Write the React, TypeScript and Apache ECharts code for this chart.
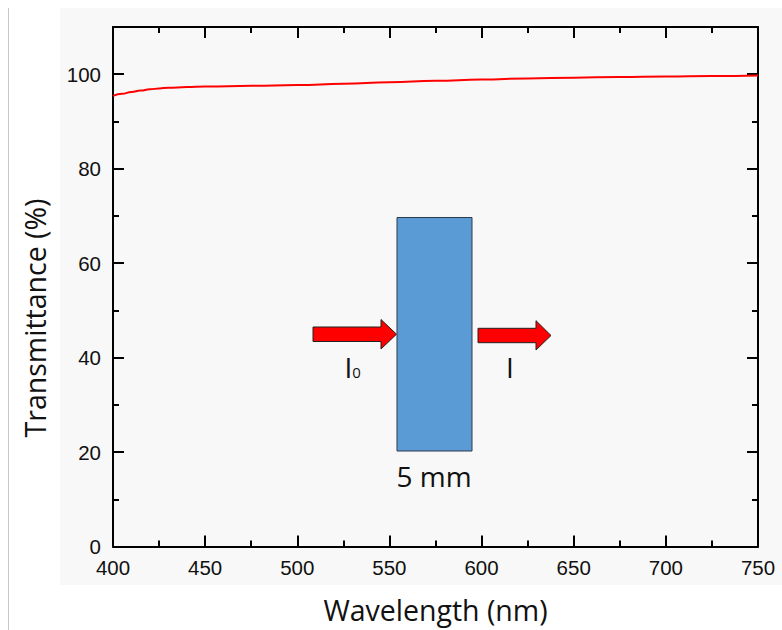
import React, { useEffect, useRef } from 'react';
import * as echarts from 'echarts';

const wavelengths = [400, 405, 410, 415, 420, 425, 430, 440, 450, 475, 500, 525, 550, 575, 600, 625, 650, 675, 700, 725, 750];
const transmittance = [95.4, 95.85, 96.25, 96.55, 96.8, 97.0, 97.12, 97.28, 97.38, 97.55, 97.72, 97.98, 98.3, 98.62, 98.88, 99.1, 99.27, 99.4, 99.5, 99.62, 99.75];
const xTickLabels = [400, 450, 500, 550, 600, 650, 700, 750];
const yTickLabels = [0, 20, 40, 60, 80, 100];

const X_MIN = 400;
const X_MAX = 750;
const Y_MIN = 0;
const Y_MAX = 110;

const TICK_FONT = 'Liberation Sans, Arial, sans-serif';
const TITLE_FONT = 'Open Sans, Noto Sans, sans-serif';

function makeAxis(kind: 'x' | 'y', position: string, major: boolean, labels: boolean) {
  const isX = kind === 'x';
  return {
    type: 'value',
    position,
    min: isX ? X_MIN : Y_MIN,
    max: isX ? X_MAX : Y_MAX,
    interval: isX ? (major ? 50 : 25) : (major ? 20 : 10),
    axisLine: { show: major, onZero: false, lineStyle: { color: '#000', width: 2 } },
    axisTick: { show: true, inside: true, length: major ? 11 : 6, lineStyle: { color: '#000', width: 2 } },
    axisLabel: {
      show: labels,
      margin: isX ? 10 : 12,
      fontFamily: TICK_FONT,
      fontSize: 20.5,
      color: '#111',
      formatter: (v: number) => {
        const list = isX ? xTickLabels : yTickLabels;
        return list.includes(v) ? String(v) : '';
      },
    },
    splitLine: { show: false },
    minorTick: { show: false },
  };
}

export default function App() {
  const ref = useRef<HTMLDivElement>(null);

  useEffect(() => {
    if (!ref.current) return;
    const chart = echarts.init(ref.current, null, { renderer: 'svg' });

    const xBottom: any = makeAxis('x', 'bottom', true, true);
    xBottom.name = 'Wavelength (nm)';
    xBottom.nameLocation = 'middle';
    xBottom.nameGap = 49;
    xBottom.nameTextStyle = { fontFamily: TITLE_FONT, fontSize: 28.5, color: '#111' };

    chart.setOption({
      animation: false,
      backgroundColor: '#ffffff',
      grid: { left: 113, top: 27, width: 645, height: 519.5, containLabel: false },
      xAxis: [
        xBottom,
        makeAxis('x', 'bottom', false, false),
        makeAxis('x', 'top', true, false),
        makeAxis('x', 'top', false, false),
      ],
      yAxis: [
        makeAxis('y', 'left', true, true),
        makeAxis('y', 'left', false, false),
        makeAxis('y', 'right', true, false),
        makeAxis('y', 'right', false, false),
      ],
      series: [
        {
          type: 'line',
          xAxisIndex: 0,
          yAxisIndex: 0,
          data: wavelengths.map((w, i) => [w, transmittance[i]]),
          smooth: true,
          smoothMonotone: 'x',
          showSymbol: false,
          lineStyle: { color: '#ff0000', width: 2 },
          z: 5,
        },
      ],
      graphic: [
        {
          type: 'rect',
          z: -10,
          silent: true,
          shape: { x: 60, y: 8, width: 722, height: 577 },
          style: { fill: '#f8f8f8' },
        },
        {
          type: 'line',
          z: -5,
          silent: true,
          shape: { x1: 8.5, y1: 8, x2: 8.5, y2: 630 },
          style: { stroke: '#c8c8c8', lineWidth: 1 },
        },
        {
          type: 'text',
          x: 35,
          y: 318,
          rotation: Math.PI / 2,
          style: {
            text: 'Transmittance (%)',
            font: `28.5px ${TITLE_FONT}`,
            fill: '#111',
            textAlign: 'center',
            textVerticalAlign: 'middle',
          },
        },
        {
          type: 'polygon',
          z: 50,
          shape: {
            points: [
              [313, 327], [381, 327], [381, 319.5], [396.5, 334.2], [381, 349], [381, 341.5], [313, 341.5],
            ],
          },
          style: { fill: '#ff0000', stroke: '#222', lineWidth: 1 },
        },
        {
          type: 'polygon',
          z: 50,
          shape: {
            points: [
              [478, 328.3], [536, 328.3], [536, 320.7], [551, 335.5], [536, 350], [536, 342.7], [478, 342.7],
            ],
          },
          style: { fill: '#ff0000', stroke: '#222', lineWidth: 1 },
        },
        {
          type: 'rect',
          z: 51,
          shape: { x: 397, y: 217.5, width: 75, height: 233.5 },
          style: { fill: '#5b9bd5', stroke: '#2e3a48', lineWidth: 1 },
        },
        {
          type: 'text',
          z: 52,
          x: 348.5,
          y: 367,
          style: { text: 'I', font: `28px ${TITLE_FONT}`, fill: '#111', textAlign: 'center', textVerticalAlign: 'middle' },
        },
        {
          type: 'text',
          z: 52,
          x: 356.5,
          y: 371.5,
          style: { text: '0', font: `15px ${TITLE_FONT}`, fill: '#111', textAlign: 'center', textVerticalAlign: 'middle' },
        },
        {
          type: 'text',
          z: 52,
          x: 510,
          y: 367,
          style: { text: 'I', font: `28px ${TITLE_FONT}`, fill: '#111', textAlign: 'center', textVerticalAlign: 'middle' },
        },
        {
          type: 'text',
          z: 52,
          x: 434,
          y: 476,
          style: { text: '5 mm', font: `28px ${TITLE_FONT}`, fill: '#111', textAlign: 'center', textVerticalAlign: 'middle' },
        },
      ],
    });

    return () => chart.dispose();
  }, []);

  return <div ref={ref} style={{ position: 'fixed', left: 0, top: 0, width: 782, height: 630 }} />;
}
